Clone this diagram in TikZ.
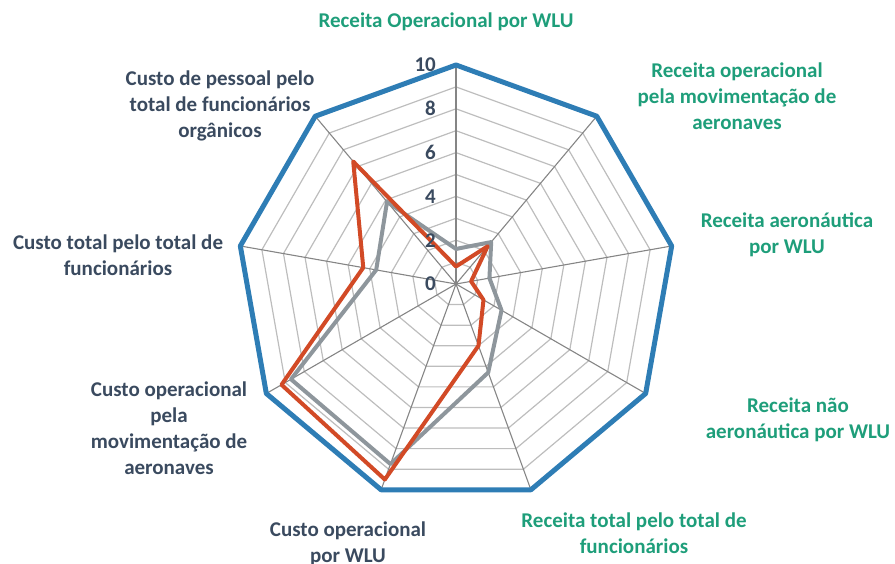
\documentclass[tikz,border=0pt]{standalone}
\usepackage{fontspec}
\setmainfont{Carlito}
\usepackage{tikz}

\definecolor{receita}{HTML}{1E9E7A}
\definecolor{custo}{HTML}{3A4A5F}
\definecolor{ringgray}{HTML}{BDBDBD}
\definecolor{axisgray}{HTML}{858585}
\definecolor{maxblue}{HTML}{2E7DB5}
\definecolor{serorange}{HTML}{D24A26}
\definecolor{sergray}{HTML}{8E969C}

\tikzset{
    lbl/.style={font=\fontsize{21}{26}\selectfont\bfseries, align=center, inner sep=0pt},
    rec/.style={lbl, text=receita},
    cst/.style={lbl, text=custo},
    tick/.style={lbl, text=custo, anchor=east},
    ring/.style={ringgray, line width=1.2pt},
    spoke/.style={axisgray, line width=1.1pt},
    serie/.style={line width=4pt, line join=round}
}

\begin{document}
\begin{tikzpicture}[x=1pt, y=-1pt]
    \useasboundingbox (0,0) rectangle (895,564);

    \begin{scope}[shift={(456,284)}, x=21.9pt, y=-21.9pt]
        % grade
        \foreach \r in {1,...,9}
            \draw[ring] (-90:\r) \foreach \k in {1,...,8} { -- ({\k*40-90}:\r) } -- cycle;
        \foreach \k in {0,...,8}
            \draw[spoke] (0,0) -- ({\k*40-90}:10);
        % series
        \draw[serie, maxblue, line width=5pt] (-90:10) \foreach \k in {1,...,8} { -- ({\k*40-90}:10) } -- cycle;
        \draw[serie, sergray] (-90:1.6) -- (-50:2.5) -- (-10:1.55) -- (30:2.4) -- (70:4.3)
            -- (110:8.75) -- (150:8.7) -- (190:3.7) -- (230:4.9) -- cycle;
        \draw[serie, serorange] (-90:0.8) -- (-50:2.25) -- (-10:0.7) -- (30:1.45) -- (70:3.0)
            -- (110:9.5) -- (150:9.2) -- (190:4.3) -- (230:7.3) -- cycle;
    \end{scope}

    \foreach \v in {0,2,...,10}
        \node[tick] (t\v) at (436,{284-21.9*\v}) {\v};

    \node[rec] (rop) at (446,22) {Receita Operacional por WLU};
    \node[rec] (rmov) at (737,96) {Receita operacional\\pela movimentação de\\aeronaves};
    \node[rec] (raer) at (787,235) {Receita aeronáutica\\por WLU};
    \node[rec] (rnaer) at (798,420) {Receita não\\aeronáutica por WLU};
    \node[rec] (rfunc) at (634,533) {Receita total pelo total de\\funcionários};
    \node[cst] (cop) at (348,544) {Custo operacional\\por WLU};
    \node[cst] (cmov) at (169,428) {Custo operacional\\pela\\movimentação de\\aeronaves};
    \node[cst] (cfunc) at (118,255) {Custo total pelo total de\\funcionários};
    \node[cst] (cpes) at (220,106) {Custo de pessoal pelo\\total de funcionários\\orgânicos};
\end{tikzpicture}
\end{document}
